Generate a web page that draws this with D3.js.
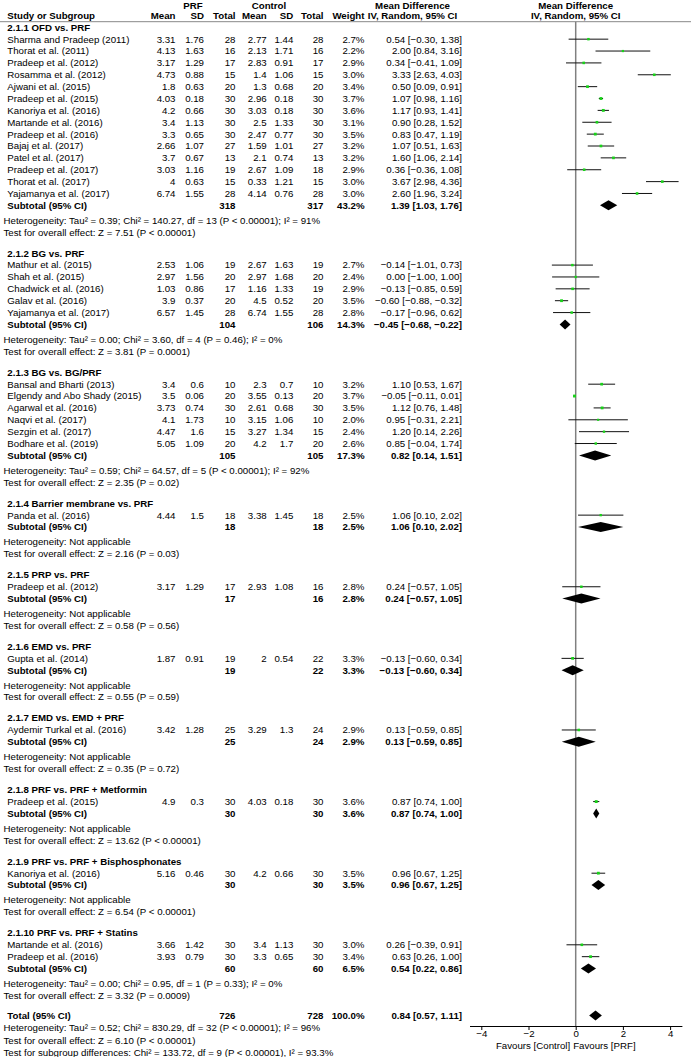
<!DOCTYPE html>
<html><head><meta charset="utf-8">
<script src="https://cdn.jsdelivr.net/npm/d3@7"></script>
<style>
body{margin:0;background:#fff}
text{font-family:"Liberation Sans",Arial,sans-serif;font-size:9.7px;fill:#000}
.b{font-weight:bold}
</style>
</head><body>
<svg id="c" width="691" height="1057"></svg>
<script>
// ---------- DATA ----------
const groupLabels = ["2.1.1 OFD vs. PRF","2.1.2 BG vs. PRF","2.1.3 BG vs. BG/PRF","2.1.4 Barrier membrane vs. PRF","2.1.5 PRP vs. PRF","2.1.6 EMD vs. PRF","2.1.7 EMD vs. EMD + PRF","2.1.8 PRF vs. PRF + Metformin","2.1.9 PRF vs. PRF + Bisphosphonates","2.1.10 PRF vs. PRF + Statins"];
const groupSizes = [14,5,6,1,1,1,1,1,1,2];
const studyNames = ["Sharma and Pradeep (2011)","Thorat et al. (2011)","Pradeep et al. (2012)","Rosamma et al. (2012)","Ajwani et al. (2015)","Pradeep et al. (2015)","Kanoriya et al. (2016)","Martande et al. (2016)","Pradeep et al. (2016)","Bajaj et al. (2017)","Patel et al. (2017)","Pradeep et al. (2017)","Thorat et al. (2017)","Yajamanya et al. (2017)",
 "Mathur et al. (2015)","Shah et al. (2015)","Chadwick et al. (2016)","Galav et al. (2016)","Yajamanya et al. (2017)",
 "Bansal and Bharti (2013)","Elgendy and Abo Shady (2015)","Agarwal et al. (2016)","Naqvi et al. (2017)","Sezgin et al. (2017)","Bodhare et al. (2019)",
 "Panda et al. (2016)","Pradeep et al. (2012)","Gupta et al. (2014)","Aydemir Turkal et al. (2016)","Pradeep et al. (2015)","Kanoriya et al. (2016)","Martande et al. (2016)","Pradeep et al. (2016)"];
const prfMean = [3.31,4.13,3.17,4.73,1.8,4.03,4.2,3.4,3.3,2.66,3.7,3.03,4,6.74, 2.53,2.97,1.03,3.9,6.57, 3.4,3.5,3.73,4.1,4.47,5.05, 4.44,3.17,1.87,3.42,4.9,5.16,3.66,3.93];
const prfSD   = [1.76,1.63,1.29,0.88,0.63,0.18,0.66,1.13,0.65,1.07,0.67,1.16,0.63,1.55, 1.06,1.56,0.86,0.37,1.45, 0.6,0.06,0.74,1.73,1.6,1.09, 1.5,1.29,0.91,1.28,0.3,0.46,1.42,0.79];
const prfN    = [28,16,17,15,20,30,30,30,30,27,13,19,15,28, 19,20,17,20,28, 10,20,30,10,15,20, 18,17,19,25,30,30,30,30];
const ctlMean = [2.77,2.13,2.83,1.4,1.3,2.96,3.03,2.5,2.47,1.59,2.1,2.67,0.33,4.14, 2.67,2.97,1.16,4.5,6.74, 2.3,3.55,2.61,3.15,3.27,4.2, 3.38,2.93,2,3.29,4.03,4.2,3.4,3.3];
const ctlSD   = [1.44,1.71,0.91,1.06,0.68,0.18,0.18,1.33,0.77,1.01,0.74,1.09,1.21,0.76, 1.63,1.68,1.33,0.52,1.55, 0.7,0.13,0.68,1.06,1.34,1.7, 1.45,1.08,0.54,1.3,0.18,0.66,1.13,0.65];
const ctlN    = [28,16,17,15,20,30,30,30,30,27,13,18,15,28, 19,20,19,20,28, 10,20,30,10,15,20, 18,16,22,24,30,30,30,30];
const weights = [2.7,2.2,2.9,3.0,3.4,3.7,3.6,3.1,3.5,3.2,3.2,2.9,3.0,3.0, 2.7,2.4,2.9,3.5,2.8, 3.2,3.7,3.5,2.0,2.4,2.6, 2.5,2.8,3.3,2.9,3.6,3.5,3.0,3.4];
const mdValues = [0.54,2.00,0.34,3.33,0.50,1.07,1.17,0.90,0.83,1.07,1.60,0.36,3.67,2.60, -0.14,0.00,-0.13,-0.60,-0.17, 1.10,-0.05,1.12,0.95,1.20,0.85, 1.06,0.24,-0.13,0.13,0.87,0.96,0.26,0.63];
const mdLower  = [-0.30,0.84,-0.41,2.63,0.09,0.98,0.93,0.28,0.47,0.51,1.06,-0.36,2.98,1.96, -1.01,-1.00,-0.85,-0.88,-0.96, 0.53,-0.11,0.76,-0.31,0.14,-0.04, 0.10,-0.57,-0.60,-0.59,0.74,0.67,-0.39,0.26];
const mdUpper  = [1.38,3.16,1.09,4.03,0.91,1.16,1.41,1.52,1.19,1.63,2.14,1.08,4.36,3.24, 0.73,1.00,0.59,-0.32,0.62, 1.67,0.01,1.48,2.21,2.26,1.74, 2.02,1.05,0.34,0.85,1.00,1.25,0.91,1.00];
const subPrfN = [318,104,105,18,17,19,25,30,30,60];
const subCtlN = [317,106,105,18,16,22,24,30,30,60];
const subWeight = [43.2,14.3,17.3,2.5,2.8,3.3,2.9,3.6,3.5,6.5];
const subMD = [1.39,-0.45,0.82,1.06,0.24,-0.13,0.13,0.87,0.96,0.54];
const subLower = [1.03,-0.68,0.14,0.10,-0.57,-0.60,-0.59,0.74,0.67,0.22];
const subUpper = [1.76,-0.22,1.51,2.02,1.05,0.34,0.85,1.00,1.25,0.86];
const hetTexts = ["Heterogeneity: Tau² = 0.39; Chi² = 140.27, df = 13 (P < 0.00001); I² = 91%","Heterogeneity: Tau² = 0.00; Chi² = 3.60, df = 4 (P = 0.46); I² = 0%","Heterogeneity: Tau² = 0.59; Chi² = 64.57, df = 5 (P < 0.00001); I² = 92%","Heterogeneity: Not applicable","Heterogeneity: Not applicable","Heterogeneity: Not applicable","Heterogeneity: Not applicable","Heterogeneity: Not applicable","Heterogeneity: Not applicable","Heterogeneity: Tau² = 0.00; Chi² = 0.95, df = 1 (P = 0.33); I² = 0%"];
const testTexts = ["Test for overall effect: Z = 7.51 (P < 0.00001)","Test for overall effect: Z = 3.81 (P = 0.0001)","Test for overall effect: Z = 2.35 (P = 0.02)","Test for overall effect: Z = 2.16 (P = 0.03)","Test for overall effect: Z = 0.58 (P = 0.56)","Test for overall effect: Z = 0.55 (P = 0.59)","Test for overall effect: Z = 0.35 (P = 0.72)","Test for overall effect: Z = 13.62 (P < 0.00001)","Test for overall effect: Z = 6.54 (P < 0.00001)","Test for overall effect: Z = 3.32 (P = 0.0009)"];
const totalPrfN = 726, totalCtlN = 728, totalWeight = 100.0;
const totalMD = 0.84, totalLower = 0.57, totalUpper = 1.11;
const totalTexts = ["Heterogeneity: Tau² = 0.52; Chi² = 830.29, df = 32 (P < 0.00001); I² = 96%","Test for overall effect: Z = 6.10 (P < 0.00001)","Test for subgroup differences: Chi² = 133.72, df = 9 (P < 0.00001), I² = 93.3%"];
const tickValues = [-4,-2,0,2,4];
const favourLabels = ["Favours [Control]","Favours [PRF]"];

// ---------- LAYOUT ----------
const svg = d3.select("#c");
const x = d3.scaleLinear().domain([-4.5,4.5]).range([469.5,681.9]);
const P = 11.87, G1 = 15, G2 = 21;
const col = {name:7.3, het:3.5, pm:175.5, psd:204, pn:235.5, cm:266.7, csd:293.3, cn:323.5, w:364.5, md:462};
const fmtN = v => String(v).replace("-","−");
const fmtMD = (m,l,u) => `${m.toFixed(2)} [${l.toFixed(2)}, ${u.toFixed(2)}]`.replace(/-/g,"−");
const fmtW = w => w.toFixed(1) + "%";

function txt(xx, yy, s, anchor, bold){
  svg.append("text").attr("x",xx).attr("y",yy).attr("dy","0.35em")
    .attr("text-anchor",anchor||"start").attr("class",bold?"b":null).text(s);
}
function diamond(yy, m, l, u){
  const h = 5;
  svg.append("path").attr("d",`M${x(l)},${yy}L${x(m)},${yy-h}L${x(u)},${yy}L${x(m)},${yy+h}Z`).attr("fill","#000");
}

// headers
const H1 = 5.5, H2 = 15.7;
txt(193,H1,"PRF","middle",true);
txt(269,H1,"Control","middle",true);
txt(412.5,H1,"Mean Difference","middle",true);
txt(x(0),H1,"Mean Difference","middle",true);
txt(col.name,H2,"Study or Subgroup","start",true);
[["Mean",col.pm],["SD",col.psd],["Total",col.pn],["Mean",col.cm],["SD",col.csd],["Total",col.cn],["Weight",col.w]].forEach(d=>txt(d[1],H2,d[0],"end",true));
txt(412.5,H2,"IV, Random, 95% CI","middle",true);
txt(x(0),H2,"IV, Random, 95% CI","middle",true);
svg.append("line").attr("x1",0).attr("x2",691).attr("y1",21.7).attr("y2",21.7).attr("stroke","#888").attr("stroke-width",1);

// zero line
svg.append("line").attr("x1",x(0)).attr("x2",x(0)).attr("y1",21.7).attr("y2",1026).attr("stroke","#808080").attr("stroke-width",1.5);

let y = 27.3, si = 0;
groupLabels.forEach((g,gi)=>{
  txt(col.name,y,g,"start",true);
  for(let k=0;k<groupSizes[gi];k++,si++){
    y += P;
    txt(col.name,y,studyNames[si]);
    txt(col.pm,y,fmtN(prfMean[si]),"end");
    txt(col.psd,y,fmtN(prfSD[si]),"end");
    txt(col.pn,y,fmtN(prfN[si]),"end");
    txt(col.cm,y,fmtN(ctlMean[si]),"end");
    txt(col.csd,y,fmtN(ctlSD[si]),"end");
    txt(col.cn,y,fmtN(ctlN[si]),"end");
    txt(col.w,y,fmtW(weights[si]),"end");
    txt(col.md,y,fmtMD(mdValues[si],mdLower[si],mdUpper[si]),"end");
    svg.append("line").attr("x1",x(mdLower[si])).attr("x2",x(mdUpper[si])).attr("y1",y).attr("y2",y).attr("stroke","#111").attr("stroke-width",1);
    const s = Math.sqrt(weights[si])*1.5;
    svg.append("rect").attr("x",x(mdValues[si])-s/2).attr("y",y-s/2).attr("width",s).attr("height",s).attr("fill","#19d219");
  }
  y += P;
  txt(col.name,y,"Subtotal (95% CI)","start",true);
  txt(col.pn,y,subPrfN[gi],"end",true);
  txt(col.cn,y,subCtlN[gi],"end",true);
  txt(col.w,y,fmtW(subWeight[gi]),"end",true);
  txt(col.md,y,fmtMD(subMD[gi],subLower[gi],subUpper[gi]),"end",true);
  diamond(y,subMD[gi],subLower[gi],subUpper[gi]);
  y += G1;
  txt(col.het,y,hetTexts[gi]);
  y += P;
  txt(col.het,y,testTexts[gi]);
  if(gi < groupLabels.length-1) y += G2;
});
y += 20;
txt(col.name,y,"Total (95% CI)","start",true);
txt(col.pn,y,totalPrfN,"end",true);
txt(col.cn,y,totalCtlN,"end",true);
txt(col.w,y,fmtW(totalWeight),"end",true);
txt(col.md,y,fmtMD(totalMD,totalLower,totalUpper),"end",true);
diamond(y,totalMD,totalLower,totalUpper);
totalTexts.forEach((t,i)=>txt(col.het,y+12.4*(i+1),t));

// axis
const ax = svg.append("g").attr("transform","translate(0,1026)")
  .call(d3.axisBottom(x).tickValues(tickValues).tickSize(4).tickSizeOuter(0).tickFormat(d=>fmtN(d)));
ax.select(".domain").attr("stroke","#000");
ax.selectAll(".tick line").attr("stroke","#000");
ax.selectAll("text").attr("y",4).style("font-size","9.7px").style("font-family",'"Liberation Sans",Arial,sans-serif').attr("fill","#000");
ax.attr("font-size",null).attr("font-family",null);
txt(x(0)-5.5,1045.3,favourLabels[0],"end");
txt(x(0)-2.5,1045.3,favourLabels[1],"start");
</script>
</body></html>
